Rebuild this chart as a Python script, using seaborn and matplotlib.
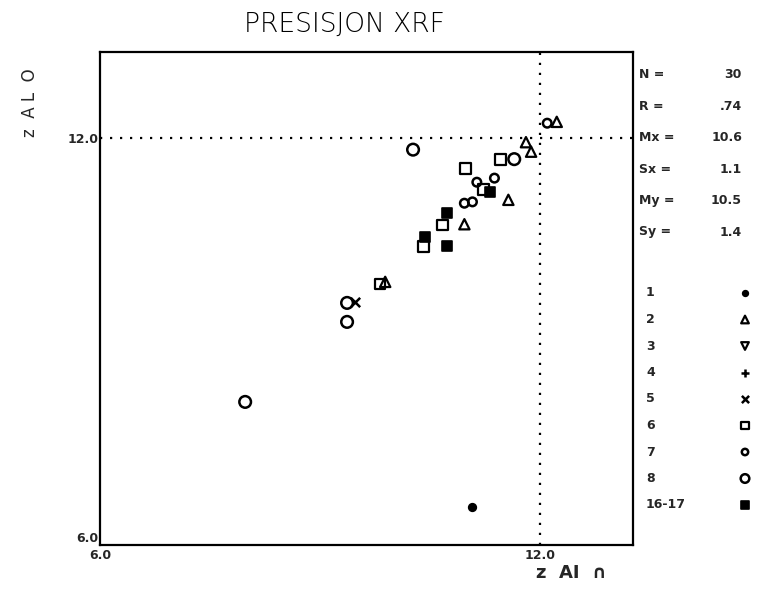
import matplotlib
matplotlib.use("Agg")
import matplotlib.pyplot as plt
import seaborn as sns
import pandas as pd

# Measured Al2O3 pairs (x = first run, y = repeat run), with sample group
x_vals = [10.27, 12.10, 12.23, 11.81, 11.88, 11.46, 11.65, 10.99, 11.14, 11.38,
          11.23, 11.32, 11.57, 10.97, 11.08, 10.73, 10.97, 10.67, 10.43, 10.41,
          10.73, 9.82, 9.89, 9.37, 9.48, 9.37, 7.98, 11.08]
y_vals = [11.83, 12.22, 12.24, 11.94, 11.80, 11.68, 11.69, 11.55, 11.35, 11.41,
          11.24, 11.21, 11.09, 11.04, 11.06, 10.90, 10.73, 10.72, 10.54, 10.40,
          10.41, 9.85, 9.88, 9.57, 9.58, 9.29, 8.11, 6.56]
groups = ["8", "7", "2", "2", "2", "6", "8", "6", "7", "7",
          "6", "16-17", "2", "7", "7", "16-17", "2", "6", "16-17", "6",
          "16-17", "6", "2", "8", "5", "8", "8", "1"]

group_names = ["1", "2", "3", "4", "5", "6", "7", "8", "16-17"]
stat_labels = ["N =", "R =", "Mx =", "Sx =", "My =", "Sy ="]
stat_values = ["30", ".74", "10.6", "1.1", "10.5", "1.4"]
ref_level = 12.0
axis_ticks = [6.0, 12.0]
tick_labels = ["6.0", "12.0"]

# marker style per group: (marker, size, filled, edge width)
styles = {
    "1": ("o", 30, True, 1.2),
    "2": ("^", 55, False, 1.6),
    "3": ("v", 55, False, 1.6),
    "4": ("+", 55, False, 1.8),
    "5": ("x", 45, False, 1.8),
    "6": ("s", 60, False, 1.6),
    "7": ("o", 38, False, 1.8),
    "8": ("o", 70, False, 1.8),
    "16-17": ("s", 50, True, 1.2),
}

df = pd.DataFrame({"x": x_vals, "y": y_vals, "group": groups})

sns.set_theme(style="white")
plt.rcParams["font.family"] = ["DejaVu Sans"]

fig = plt.figure(figsize=(7.62, 5.89), dpi=100)
ax = fig.add_axes([100 / 762, 44 / 589, 533 / 762, 493 / 589])

for g in group_names:
    sub = df[df["group"] == g]
    if sub.empty:
        continue
    m, s, filled, lw = styles[g]
    if m in ("+", "x"):
        sns.scatterplot(data=sub, x="x", y="y", marker=m, s=s, color="black",
                        linewidth=lw, ax=ax, legend=False, zorder=3)
    else:
        sns.scatterplot(data=sub, x="x", y="y", marker=m, s=s,
                        facecolor="black" if filled else "none",
                        edgecolor="black", linewidth=lw, ax=ax,
                        legend=False, zorder=3)

ax.set_xlim(6.0, 13.27)
ax.set_ylim(6.0, 13.27)

# dotted reference lines at 12.0
ax.axhline(ref_level, color="black", lw=1.6, ls=(0, (1, 3.5)), zorder=2)
ax.axvline(ref_level, color="black", lw=1.6, ls=(0, (1, 3.5)), zorder=2)

ax.set_xticks(axis_ticks)
ax.set_xticklabels(tick_labels)
ax.set_yticks(axis_ticks)
ax.set_yticklabels(tick_labels)
ax.tick_params(axis="both", length=0, labelsize=9)
ax.tick_params(axis="x", pad=3)
ax.tick_params(axis="y", pad=1)
for lab in ax.get_xticklabels() + ax.get_yticklabels():
    lab.set_fontweight("bold")
# the lower y label sits just above the corner, clear of the x label
ax.get_yticklabels()[0].set_va("bottom")
ax.set_xlabel("")
ax.set_ylabel("")
for sp in ax.spines.values():
    sp.set_color("black")
    sp.set_linewidth(1.6)

fig.text(344 / 762, 1 - 24 / 589, "PRESISJON XRF", ha="center", va="center",
         fontsize=19, fontweight="light", color="black")
fig.text(536 / 762, 1 - 573 / 589, "z  AI  \u2229", ha="left", va="center",
         fontsize=13, fontweight="bold")
fig.text(30 / 762, 1 - 103 / 589, "z  A L  O", ha="center", va="center",
         rotation=90, fontsize=12)

# right-hand panel: summary statistics and symbol key
side = fig.add_axes([633 / 762, 44 / 589, 129 / 762, 493 / 589])
side.set_xlim(633, 762)
side.set_ylim(545, 52)
side.axis("off")

for i, (lab, val) in enumerate(zip(stat_labels, stat_values)):
    yy = 75 + 31.4 * i
    side.text(639, yy, lab, ha="left", va="center", fontsize=9, fontweight="bold")
    side.text(742, yy, val, ha="right", va="center", fontsize=9, fontweight="bold")

key_rows = pd.DataFrame({"group": group_names,
                         "row": [293 + 26.5 * i for i in range(len(group_names))]})
for _, r in key_rows.iterrows():
    side.text(646, r["row"], r["group"], ha="left", va="center",
              fontsize=9, fontweight="bold")
    m, s, filled, lw = styles[r["group"]]
    key = pd.DataFrame({"x": [745], "y": [r["row"]]})
    if m in ("+", "x"):
        sns.scatterplot(data=key, x="x", y="y", marker=m, s=s * 0.6,
                        color="black", linewidth=lw, ax=side, legend=False,
                        clip_on=False)
    else:
        sns.scatterplot(data=key, x="x", y="y", marker=m, s=s * 0.55,
                        facecolor="black" if filled else "none",
                        edgecolor="black", linewidth=lw, ax=side,
                        legend=False, clip_on=False)
side.set_xlabel("")
side.set_ylabel("")

fig.savefig("out.png", dpi=100)
